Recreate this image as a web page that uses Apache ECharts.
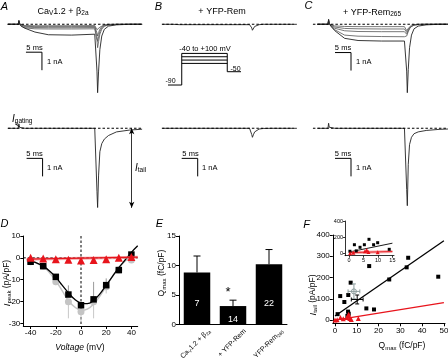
<!DOCTYPE html>
<html><head><meta charset="utf-8">
<script src="https://cdn.jsdelivr.net/npm/echarts@6/dist/echarts.min.js"></script>
<style>html,body{margin:0;padding:0;background:#fff}#c{width:448px;height:358px}</style>
</head><body><div id="c"></div>
<script>
const FONT = '"Liberation Sans", Arial, Helvetica, sans-serif';

// ---------- Panels A-C: current traces (time in ms, current in nA) ----------
const traceTime = [0, 3.3, 3.5, 3.7, 4.2, 5.4, 8.5, 12.7, 20, 27.2, 27.7, 27.9, 28.1, 28.4, 28.8, 29.4, 30.2, 31.5, 34, 38, 42];
const ampA1 = [0,0,0.22,0.05,-0.1,-0.22,-0.43,-0.58,-0.6,-0.55,-0.54,-2.6,-3.8,-2.6,-1.4,-0.65,-0.28,-0.1,-0.03,0,0];
const ampA2 = [0,0,0.2,0.04,-0.1,-0.2,-0.25,-0.26,-0.26,-0.25,-0.25,-0.9,-1.3,-0.95,-0.55,-0.27,-0.11,-0.04,-0.01,0,0];
const ampA3 = [0,0,0.18,0.03,-0.08,-0.15,-0.18,-0.19,-0.19,-0.18,-0.18,-0.7,-0.95,-0.68,-0.4,-0.19,-0.08,-0.03,0,0,0];
const ampA4 = [0,0,0.16,0.02,-0.06,-0.11,-0.13,-0.13,-0.13,-0.12,-0.12,-0.48,-0.65,-0.46,-0.27,-0.13,-0.05,-0.02,0,0,0];
const ampA5 = [0,0,0.14,0.02,-0.04,-0.07,-0.08,-0.08,-0.08,-0.07,-0.07,-0.3,-0.4,-0.28,-0.16,-0.08,-0.03,0,0,0,0];
const gatingA = [0,0,0.25,0.05,0,0,0,0,0,0,0,-3.5,-4.4,-2.6,-1.3,-0.85,-0.6,-0.4,-0.2,-0.1,-0.05];
const ampB = [0,0,0.06,0.01,-0.01,-0.02,-0.02,-0.02,-0.02,-0.02,-0.02,-0.2,-0.33,-0.22,-0.12,-0.05,-0.02,0,0,0,0];
const gatingB = [0,0,0.08,0.01,0,0,0,0,0,0,0,-0.35,-0.5,-0.36,-0.2,-0.1,-0.04,-0.01,0,0,0];
const ampC1 = [0,0,0.28,0.05,-0.1,-0.35,-0.78,-0.9,-0.93,-0.93,-0.92,-2.6,-3.8,-2.5,-1.3,-0.6,-0.25,-0.1,-0.03,0,0];
const ampC2 = [0,0,0.25,0.04,-0.1,-0.3,-0.6,-0.66,-0.68,-0.69,-0.69,-0.65,-0.55,-0.4,-0.25,-0.12,-0.05,-0.02,0,0,0];
const ampC3 = [0,0,0.22,0.03,-0.08,-0.22,-0.36,-0.4,-0.41,-0.41,-0.41,-0.55,-0.5,-0.36,-0.22,-0.1,-0.04,-0.01,0,0,0];
const ampC4 = [0,0,0.2,0.03,-0.06,-0.15,-0.23,-0.25,-0.26,-0.26,-0.26,-0.45,-0.42,-0.3,-0.18,-0.08,-0.03,0,0,0,0];
const ampC5 = [0,0,0.18,0.02,-0.04,-0.09,-0.12,-0.13,-0.13,-0.13,-0.13,-0.35,-0.32,-0.22,-0.12,-0.05,-0.02,0,0,0,0];
const gatingC = [0,0,0.28,0.06,0,0,0,0,0,0,-0.02,-3.4,-4.3,-2.0,-0.9,-0.5,-0.3,-0.2,-0.12,-0.06,-0.03];
const SCALE_MS = 5, SCALE_NA = 1;

// Voltage protocol (schematic, mV)
const protocolTimes = [0, 4.3, 18.55, 22.85];
const holdMv = -90, tailMv = -50;
const stepMv = [-25, -15, -5, 5];

// ---------- Panel D: I-V ----------
const ivVoltage = [-40, -30, -20, -10, 0, 10, 20, 30, 40];
const ivBlack = [-1.8, -3.8, -8.7, -16.8, -21.7, -19, -12.5, -5.6, 1.5];
const ivBlackErr = [0.3, 0.5, 1, 4.2, 1.5, 8, 3.1, 1, 0.8];
const ivGray = [-1.8, -3.8, -11, -20.1, -24.7, -20.1, -13.2, -5.6, -1];
const ivGrayErr = [0.3, 0.5, 1.5, 7.6, 4.7, 7.6, 3.1, 1, 0.5];
const ivRed = [0, -0.3, -0.6, -0.9, -1.2, -1, -0.6, 0, 0.4];
const ivRedErr = [0.5, 0.5, 0.6, 0.7, 0.8, 0.7, 0.6, 0.5, 0.5];
const fitBlackV = [-43, -40, -35, -30, -25, -20, -15, -10, -5, 0, 5, 10, 15, 20, 25, 30, 35, 40, 45];
const fitBlackI = [-0.8, -1.5, -2.4, -3.8, -6, -8.8, -12.5, -16, -19, -20.7, -21, -19.5, -16.5, -12.5, -8.5, -4.5, -1, 2.5, 5.5];
const fitGrayV = [-40, -30, -25, -20, -15, -10, -5, 0, 5, 10, 15, 20, 25, 30, 35, 40];
const fitGrayI = [-1.2, -4, -6.8, -10.5, -15, -19.5, -22.5, -24, -23.5, -21.2, -17.5, -13, -8.5, -4.5, -1.5, 0.5];
const fitRedV = [-43, 45];
const fitRedI = [-0.6, 0.3];
const ivTicksX = [-40, -20, 0, 20, 40];
const ivTicksY = [-30, -20, -10, 0, 10];

// ---------- Panel E: Qmax bars ----------
const eCategories = ['CaV1.2 + β2a', '+ YFP-Rem', '+ YFP-Rem265'];
const eMeans = [8.8, 3.1, 10.2];
const eSem = [2.8, 1.0, 2.5];
const eN = [7, 14, 22];

// ---------- Panel F: Itail vs Qmax ----------
const fBlackQ = [1.2, 2.4, 4.3, 6.1, 7.2, 5.7, 6.0, 6.3, 14.4, 17.9, 15.7, 24.9, 32.9, 33.6, 47.4];
const fBlackI = [28, 113, 85, 118, 176, 20, 40, 30, 55, 50, 254, 191, 248, 293, 204];
const fRedQ = [0, 1, 2.5, 3.8, 5.5, 6, 6.3, 6.8, 7.5, 10.7];
const fRedI = [0, 2, 12, 6, 12, 20, 28, 8, 3, 8];
const fFitBlackQ = [0, 50];
const fFitBlackI = [19, 373];
const fFitRedQ = [0, 50];
const fFitRedI = [0, 82];
const fMeanGray = [8.7, 135, 2.7, 35];
const fMeanBlack = [10.2, 97, 2.7, 21];
const fTicksX = [0, 10, 20, 30, 40, 50];
const fTicksY = [0, 100, 200, 300, 400];
const insetBlackQ = [0.3, 1.85, 3.8, 5.3, 6.9, 8.5, 9.9, 13.9, 2.5];
const insetBlackI = [25, 106, 74, 106, 173, 106, 131, 49, 30];
const insetRedQ = [0.35, 1.5, 5.5, 6.1, 6.7, 9.9];
const insetRedI = [0, 8, 25, 40, 16, 12];
const insetFitBlackQ = [0, 15];
const insetFitBlackI = [15, 125];
const insetFitRedQ = [0, 15];
const insetFitRedI = [8, 22];
const insetTicksX = [0, 5, 10, 15];
const insetTicksY = [0, 200, 400];

// ---------- build ----------
const grids = [], xAxes = [], yAxes = [], series = [];
function addGrid(g, xa, ya) {
  const i = grids.length;
  grids.push(Object.assign({outerBoundsMode: 'none', containLabel: false}, g));
  xAxes.push(Object.assign({gridIndex: i}, xa));
  yAxes.push(Object.assign({gridIndex: i}, ya));
  return i;
}
const hidden = (min, max) => ({type: 'value', min, max, show: false, splitLine: {show: false}});
function shownAxis(min, max, ticks, extra) {
  return Object.assign({
    type: 'value', min, max,
    axisLine: {show: true, onZero: false, lineStyle: {color: '#000', width: 1}},
    axisTick: {show: true, length: 3, customValues: ticks, lineStyle: {color: '#000', width: 1}},
    axisLabel: {show: true, customValues: ticks, fontSize: 8, color: '#000', fontFamily: FONT, margin: 3},
    splitLine: {show: false}
  }, extra || {});
}
const zip = (a, b) => a.map((v, i) => [v, b[i]]);

// trace grids: [left, top, height, ymin]
function traceGrid(left, top, height, ymin) {
  return addGrid({left, top, width: 140.8, height}, hidden(-2, 42), hidden(ymin, 0.5));
}
const gAt = traceGrid(1.3, 15.3, 90, -4.5);
const gAb = traceGrid(1.3, 119.3, 99, -5);
const gBt = traceGrid(156.1, 15.3, 90, -4.5);
const gBb = traceGrid(156.1, 119.3, 99, -5);
const gCt = traceGrid(311, 15.3, 90, -4.5);
const gCb = traceGrid(311, 119.3, 99, -5);
const gP = addGrid({left: 168, top: 51.75, width: 73, height: 36.6}, hidden(0, 22.85), hidden(-100, 10));

function line(g, data, color, width, extra) {
  series.push(Object.assign({type: 'line', xAxisIndex: g, yAxisIndex: g, data, symbol: 'none',
    lineStyle: {color, width}, silent: true, animation: false, z: 3}, extra || {}));
}
function trace(g, amps, color, width) { line(g, zip(traceTime, amps), color, width); }
function baseline(g, t0, t1) { line(g, [[t0, 0], [t1, 0]], '#000', 1.1, {lineStyle: {color: '#000', width: 1.1, type: [2.5, 2]}, z: 4}); }
function scaleBar(g, t0, i0) { line(g, [[t0, i0], [t0 + SCALE_MS, i0], [t0 + SCALE_MS, i0 - SCALE_NA]], '#000', 1); }

[ampA5, ampA4, ampA3, ampA2].forEach(a => trace(gAt, a, '#555', 0.8));
trace(gAt, ampA1, '#222', 0.9);
baseline(gAt, 0.1, 42);
scaleBar(gAt, 5.7, -1.55);
trace(gAb, gatingA, '#222', 0.9);
baseline(gAb, 0.1, 42);
scaleBar(gAb, 5.9, -1.67);
series[series.length - 2].markLine = {silent: true, symbol: ['arrow', 'arrow'], symbolSize: [4, 6],
  lineStyle: {color: '#000', width: 0.8, type: 'solid'}, label: {show: false},
  data: [[{coord: [38.75, 0]}, {coord: [38.75, -4.42]}]]};

trace(gBt, ampB, '#222', 0.9);
baseline(gBt, -0.2, 41);
trace(gBb, gatingB, '#222', 0.9);
baseline(gBb, -0.2, 41);
scaleBar(gBb, 6.0, -1.67);

[ampC5, ampC4, ampC3, ampC2].forEach(a => trace(gCt, a, '#555', 0.8));
trace(gCt, ampC1, '#222', 0.9);
baseline(gCt, -1.4, 40.5);
scaleBar(gCt, 5.5, -1.57);
trace(gCb, gatingC, '#222', 0.9);
baseline(gCb, -1.4, 40.5);
scaleBar(gCb, 5.5, -1.67);

// protocol
const topStep = stepMv[stepMv.length - 1];
line(gP, [[protocolTimes[0], holdMv], [protocolTimes[1], holdMv], [protocolTimes[1], topStep], [protocolTimes[2], topStep],
  [protocolTimes[2], tailMv], [protocolTimes[3], tailMv]], '#000', 1);
stepMv.slice(0, -1).forEach(v => line(gP, [[protocolTimes[1], v], [protocolTimes[2], v]], '#000', 1));

// ---------- D ----------
const gD = addGrid({left: 23.3, top: 236, width: 114.4, height: 90},
  shownAxis(-45.8, 45, ivTicksX, {position: 'bottom'}),
  shownAxis(-31.2, 10, ivTicksY, {position: 'left'}));
function errBars(g, xs, ys, errs, dir, color, cap, z) {
  series.push({type: 'custom', xAxisIndex: g, yAxisIndex: g, silent: true, animation: false, z: z || 2,
    data: xs.map((x, i) => [x, ys[i], errs[i]]),
    renderItem: (p, api) => {
      const x = api.value(0), y = api.value(1), e = api.value(2);
      const a = api.coord([x, y]), b = api.coord([x, y + dir * e]);
      const ch = [{type: 'line', shape: {x1: a[0], y1: a[1], x2: b[0], y2: b[1]}, style: {stroke: color, lineWidth: 1}}];
      if (cap) ch.push({type: 'line', shape: {x1: b[0] - cap / 2, y1: b[1], x2: b[0] + cap / 2, y2: b[1]}, style: {stroke: color, lineWidth: 1}});
      return {type: 'group', children: ch};
    }});
}
function scatter(g, data, symbol, size, color, z) {
  series.push({type: 'scatter', xAxisIndex: g, yAxisIndex: g, data, symbol, symbolSize: size,
    itemStyle: {color, opacity: 1}, silent: true, animation: false, z: z || 5});
}
line(gD, zip(fitGrayV, fitGrayI), '#c4c4c4', 1.5, {smooth: 0.4, z: 2});
errBars(gD, ivVoltage, ivGray, ivGrayErr, -1, '#c8c8c8', 0, 2);
scatter(gD, zip(ivVoltage, ivGray), 'circle', 7, '#c4c4c4', 3);
line(gD, zip(fitBlackV, fitBlackI), '#000', 1.3, {smooth: 0.4, z: 4});
errBars(gD, ivVoltage, ivBlack, ivBlackErr, 1, '#9a9a9a', 0, 3);
scatter(gD, zip(ivVoltage, ivBlack), 'rect', 6.5, '#000', 5);
line(gD, [[-45.8, 0], [45, 0]], '#000', 1, {lineStyle: {color: '#000', width: 1, type: [2.5, 2]}, z: 1});
line(gD, [[0, 10], [0, -31.2]], '#000', 1, {lineStyle: {color: '#000', width: 1, type: [2.5, 2]}, z: 1});
line(gD, zip(fitRedV, fitRedI), 'rgba(240,120,120,0.6)', 3, {z: 6});
line(gD, zip(fitRedV, fitRedI), '#e8141c', 1.2, {z: 6});
errBars(gD, ivVoltage, ivRed, ivRedErr, 1, '#f29a9a', 0, 6);
scatter(gD, zip(ivVoltage, ivRed), 'triangle', 8, '#e8141c', 7);

// ---------- E ----------
const gE = addGrid({left: 179, top: 236, width: 108, height: 88.3},
  {type: 'category', data: eCategories, axisLine: {show: true, onZero: false, lineStyle: {color: '#000', width: 1}},
   axisTick: {show: false}, axisLabel: {show: false}, splitLine: {show: false}},
  shownAxis(0, 15, [0, 5, 10, 15], {interval: 5}));
series.push({type: 'bar', xAxisIndex: gE, yAxisIndex: gE, barWidth: 26.5, silent: true, animation: false, z: 3,
  itemStyle: {color: '#000'},
  data: eMeans.map((m, i) => ({value: m, label: {show: true, position: 'insideBottom', distance: i === 1 ? 0 : 16,
    formatter: String(eN[i]), color: '#fff', fontSize: 9, fontFamily: FONT}}))});
errBars(gE, [0, 1, 2], eMeans, eSem, 1, '#000', 7, 2);

// ---------- F ----------
const gF = addGrid({left: 332.8, top: 235, width: 112.2, height: 88.3},
  shownAxis(-1, 50.5, fTicksX, {position: 'bottom'}),
  shownAxis(-15, 400, fTicksY, {position: 'left'}));
line(gF, zip(fFitBlackQ, fFitBlackI), '#000', 1.3, {z: 3});
line(gF, zip(fFitRedQ, fFitRedI), '#e8141c', 1.3, {z: 3});
scatter(gF, zip(fBlackQ, fBlackI), 'rect', 4, '#000', 5);
scatter(gF, zip(fRedQ, fRedI), 'triangle', 5, '#e8141c', 6);
function crosses(g, items) {
  series.push({type: 'custom', xAxisIndex: g, yAxisIndex: g, silent: true, animation: false, z: 7,
    data: items.map(it => it.v),
    renderItem: (p, api) => {
      const it = items[p.dataIndex];
      const q = api.value(0), i = api.value(1), eq = api.value(2), ei = api.value(3);
      const l = api.coord([q - eq, i]), r = api.coord([q + eq, i]), t = api.coord([q, i + ei]), b = api.coord([q, i - ei]);
      const c = api.coord([q, i]);
      const st = {stroke: it.color, lineWidth: 1};
      const ch = [
        {type: 'line', shape: {x1: l[0], y1: l[1], x2: r[0], y2: r[1]}, style: st},
        {type: 'line', shape: {x1: t[0], y1: t[1], x2: b[0], y2: b[1]}, style: st},
        {type: 'line', shape: {x1: l[0], y1: l[1] - 2, x2: l[0], y2: l[1] + 2}, style: st},
        {type: 'line', shape: {x1: r[0], y1: r[1] - 2, x2: r[0], y2: r[1] + 2}, style: st},
        {type: 'line', shape: {x1: t[0] - 2, y1: t[1], x2: t[0] + 2, y2: t[1]}, style: st},
        {type: 'line', shape: {x1: b[0] - 2, y1: b[1], x2: b[0] + 2, y2: b[1]}, style: st}];
      if (it.circle) ch.push({type: 'circle', shape: {cx: c[0], cy: c[1], r: 2.5}, style: {stroke: it.color, fill: 'none', lineWidth: 1}});
      return {type: 'group', children: ch};
    }});
}
crosses(gF, [{v: fMeanGray, color: '#8c9c9c', circle: true}, {v: fMeanBlack, color: '#000', circle: false}]);

const inAxis = (min, max, ticks) => shownAxis(min, max, ticks, {
  axisTick: {show: true, length: 2, customValues: ticks, lineStyle: {color: '#000', width: 0.8}},
  axisLine: {show: true, onZero: false, lineStyle: {color: '#000', width: 0.8}},
  axisLabel: {show: true, customValues: ticks, fontSize: 5.5, color: '#000', fontFamily: FONT, margin: 2}});
const gI = addGrid({left: 345, top: 221, width: 49, height: 34.7},
  Object.assign(inAxis(-1.4, 15.55, insetTicksX), {position: 'bottom'}),
  Object.assign(inAxis(-30, 400, insetTicksY), {position: 'left'}));
line(gI, zip(insetFitBlackQ, insetFitBlackI), '#000', 0.9, {z: 3});
line(gI, zip(insetFitRedQ, insetFitRedI), 'rgba(240,120,120,0.6)', 3, {z: 3});
line(gI, zip(insetFitRedQ, insetFitRedI), '#e8141c', 0.9, {z: 3});
scatter(gI, zip(insetBlackQ, insetBlackI), 'rect', 3, '#000', 5);
scatter(gI, zip(insetRedQ, insetRedI), 'triangle', 4, '#e8141c', 6);

// ---------- text ----------
const sub = {fontSize: 6, fontFamily: FONT, padding: [4, 0, 0, 0], fill: '#000'};
function txt(x, y, text, size, opts) {
  const o = opts || {};
  return {type: 'text', x, y, rotation: o.rot || 0, silent: true, z: 100,
    style: {text, fill: o.color || '#000', font: (o.italic ? 'italic ' : '') + size + 'px ' + FONT,
      align: o.align || 'center', verticalAlign: o.va || 'middle',
      textAlign: o.align || 'center', textVerticalAlign: o.va || 'middle',
      rich: o.rich}};
}
const richSub = (base, italicFirst) => ({
  i: {fontSize: base + 1, fontStyle: 'italic', fontFamily: FONT, fill: '#000'},
  n: {fontSize: base, fontFamily: FONT, fill: '#000'},
  it: {fontSize: base, fontStyle: 'italic', fontFamily: FONT, fill: '#000'},
  s: Object.assign({}, sub, {fontSize: base - 2.5})
});
const graphics = [
  txt(4.5, 6.5, 'A', 11, {italic: true}),
  txt(158.5, 6.5, 'B', 11, {italic: true}),
  txt(308.5, 5.5, 'C', 11, {italic: true}),
  txt(4.5, 224, 'D', 11, {italic: true}),
  txt(159.5, 224, 'E', 11, {italic: true}),
  txt(306.5, 225, 'F', 11, {italic: true}),
  txt(63, 11.5, '{n|Ca}{s|V}{n|1.2 + β}{s|2a}', 9, {rich: richSub(9)}),
  txt(222, 11.5, '+ YFP-Rem', 9),
  txt(372, 12.5, '{n|+ YFP-Rem}{s|265}', 9, {rich: richSub(9)}),
  txt(205, 49.3, '-40 to +100 mV', 7.5),
  txt(170.5, 81.5, '-90', 7),
  txt(235.5, 68.8, '-50', 7),
  // scale bar labels
  txt(34.5, 47.7, '5 ms', 7.5), txt(47, 62, '1 nA', 7.5, {align: 'left'}),
  txt(34.5, 154, '5 ms', 7.5), txt(47, 168, '1 nA', 7.5, {align: 'left'}),
  txt(190.5, 154, '5 ms', 7.5), txt(202, 168, '1 nA', 7.5, {align: 'left'}),
  txt(343, 47.7, '5 ms', 7.5), txt(356, 62, '1 nA', 7.5, {align: 'left'}),
  txt(343, 154, '5 ms', 7.5), txt(356, 168, '1 nA', 7.5, {align: 'left'}),
  txt(12, 119.5, '{i|I}{s|gating}', 9, {align: 'left', rich: richSub(9)}),
  txt(135, 168, '{i|I}{s|tail}', 9, {align: 'left', rich: richSub(9)}),
  // axis names
  txt(7, 283, '{i|I}{s|peak}{n| (pA/pF)}', 8.5, {rot: Math.PI / 2, rich: richSub(8.5)}),
  txt(80, 347.5, '{it|Voltage}{n| (mV)}', 8.5, {rich: richSub(8.5)}),
  txt(162, 273, '{n|Q}{s|max}{n| (fC/pF)}', 8.5, {rot: Math.PI / 2, rich: richSub(8.5)}),
  txt(313, 295, '{i|I}{s|tail}{n| (pA/pF)}', 8.5, {rot: Math.PI / 2, rich: richSub(8.5)}),
  txt(402, 346, '{n|Q}{s|max}{n| (fC/pF)}', 8.5, {rich: richSub(8.5)}),
  txt(228, 292, '*', 13),
  // E category labels
  txt(209, 330, '{n|Ca}{s|V}{n|1.2 + β}{s|2a}', 7, {align: 'right', rot: Math.PI / 4, rich: richSub(7)}),
  txt(245, 330, '{n|+ YFP-Rem}', 7, {align: 'right', rot: Math.PI / 4, rich: richSub(7)}),
  txt(282, 330, '{n|+ YFP-Rem}{s|265}', 7, {align: 'right', rot: Math.PI / 4, rich: richSub(7)}),
  {type: 'polyline', silent: true, z: 100, shape: {points: [[15.5, 122], [17, 125.5], [19.5, 126.5]]}, style: {stroke: '#000', lineWidth: 0.7, fill: 'none'}}
];

const chart = echarts.init(document.getElementById('c'), null, {renderer: 'canvas'});
chart.setOption({animation: false, backgroundColor: '#fff', textStyle: {fontFamily: FONT},
  grid: grids, xAxis: xAxes, yAxis: yAxes, series, graphic: {elements: graphics}});
</script></body></html>
